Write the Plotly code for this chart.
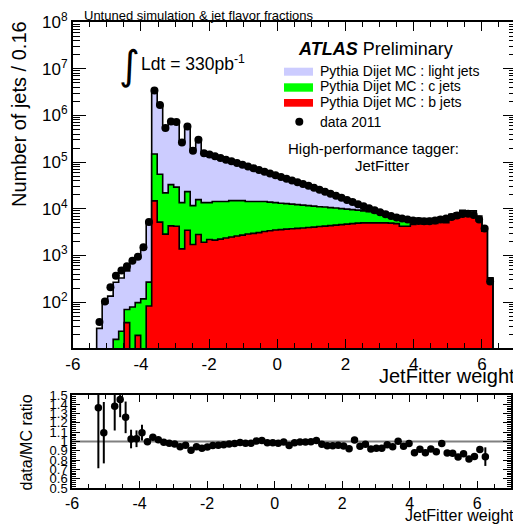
import numpy as np
import plotly.graph_objects as go

# the page body has an 8px margin, so the figure is drawn 8px in from the window corner
PAGE_OFFSET = 8
W, H = 521 - PAGE_OFFSET, 527 - PAGE_OFFSET

# ---------------- data ----------------
bin_low_edge = -5.30
bin_width = 0.1614

data_2011 = [
    37.6, 104, 210, 368, 479, 592, 769, 938, 1507, 5250,
    3.40e6, 1.68e6, 5.35e5, 7.41e5, 7.19e5, 2.63e5, 5.79e5, 1.75e5, 3.02e5, 1.55e5, 1.46e5,
    1.34e5, 1.23e5, 1.13e5, 1.04e5, 9.52e4, 8.75e4, 8.01e4, 7.38e4, 6.75e4, 6.21e4,
    5.71e4, 5.22e4, 4.81e4, 4.40e4, 4.05e4, 3.72e4, 3.42e4, 3.12e4, 2.82e4, 2.56e4,
    2.32e4, 2.10e4, 1.90e4, 1.72e4, 1.55e4, 1.40e4, 1.26e4, 1.14e4, 1.03e4, 9290,
    8410, 7670, 7050, 6550, 6180, 5880, 5650, 5490, 5410, 5430,
    5600, 5880, 6180, 6650, 7160, 7710, 7890, 7330, 5880, 3780, 278,
]

mc_b_jets = [
    0, 0, 0, 0, 0, 36.5, 0, 19.5, 0, 83,
    14800, 5200, 2870, 4310, 4230, 1390, 3470, 1720, 2810, 1930, 2200,
    2140, 2250, 2370, 2490, 2610, 2740, 2880, 2980, 3100, 3260,
    3390, 3510, 3590, 3670, 3740, 3810, 3890, 3970, 4060, 4170,
    4270, 4370, 4480, 4590, 4710, 4830, 4950, 5000, 5000, 5000,
    5000, 5000, 4950, 4830, 4230, 4230, 4620, 4990, 4730, 4940,
    4870, 5280, 5050, 6070, 6560, 7410, 7260, 7220, 5600, 3300, 320,
]

mc_c_jets = [
    0, 0, 0, 16, 24, 33.5, 79, 78.5, 118, 187,
    134200, 49900, 19030, 28590, 24870, 12210, 19830, 9980, 12890, 11670, 11400,
    12160, 12050, 11930, 12510, 12390, 12260, 11420, 11320, 11200, 11040,
    10510, 10090, 9610, 9230, 8860, 8490, 8110, 7730, 7340, 6930,
    6630, 6230, 5920, 5510, 5150, 4790, 4430, 4020, 3710, 3380,
    3050, 2710, 1950, 1670, 1470, 1370, 350, 375, 355, 370,
    365, 395, 380, 455, 490, 555, 545, 540, 420, 250, 8,
]

mc_light_jets = [
    27.6, 95, 135, 251, 306, 400, 670, 813, 1258, 4990,
    3101000, 1595000, 518100, 723100, 709900, 265400, 580700, 181300, 304300, 153400, 141400,
    125700, 113700, 102700, 92000, 82400, 73400, 67400, 61000, 52900, 47200,
    44000, 39300, 35800, 31300, 29700, 25400, 22400, 19700, 16900, 14200,
    13000, 11400, 9500, 7800, 6440, 5580, 3020, 2980, 1890, 1720,
    1030, 570, 400, 440, 470, 600, 810, 875, 825, 860,
    855, 925, 880, 1065, 1150, 1295, 1275, 1270, 980, 580, 4,
]

ratio_err = [
    0.65, 0.33, 0.0, 0.26, 0.19, 0.17, 0.10, 0.09, 0.085, 0.02,
    0.01, 0.01, 0.01, 0.01, 0.01, 0.01, 0.01, 0.01, 0.01, 0.01, 0.01,
    0.01, 0.01, 0.01, 0.01, 0.01, 0.01, 0.01, 0.01, 0.01, 0.01,
    0.01, 0.01, 0.01, 0.01, 0.01, 0.01, 0.01, 0.01, 0.01, 0.01,
    0.015, 0.015, 0.015, 0.015, 0.015, 0.015, 0.015, 0.015, 0.015, 0.015,
    0.02, 0.02, 0.02, 0.02, 0.02, 0.02, 0.02, 0.02, 0.02, 0.025,
    0.025, 0.025, 0.025, 0.025, 0.025, 0.025, 0.025, 0.025, 0.03, 0.035, 0.10,
]

x_major_ticks = [-6, -4, -2, 0, 2, 4, 6]
x_major_labels = ["-6", "-4", "-2", "0", "2", "4", "6"]
y_decades = [2, 3, 4, 5, 6, 7, 8]
ratio_ticks = [0.5, 0.6, 0.7, 0.8, 0.9, 1.0, 1.1, 1.2, 1.3, 1.4, 1.5]
ratio_labels = ["0.5", "0.6", "0.7", "0.8", "0.9", "1", "1.1", "1.2", "1.3", "1.4", "1.5"]

# ---------------- derived ----------------
n = len(data_2011)
edges = bin_low_edge + bin_width * np.arange(n + 1)
centers = 0.5 * (edges[:-1] + edges[1:])
b = np.array(mc_b_jets, float)
c = np.array(mc_c_jets, float)
l = np.array(mc_light_jets, float)
d = np.array(data_2011, float)
stack_b = b
stack_bc = b + c
stack_all = b + c + l
ratio = d / stack_all

FLOOR = 1e-3


def step_xy(vals):
    v = np.where(vals > 0, vals, FLOOR)
    x = np.concatenate([[edges[0]], edges[:-1], [edges[-1], edges[-1]]])
    y = np.concatenate([[FLOOR], v, [v[-1], FLOOR]])
    return x, y


FONT = "Liberation Sans, Arial, Helvetica, sans-serif"


def px(xp):
    return (xp - PAGE_OFFSET) / W


def py(yp):
    return 1 - (yp - PAGE_OFFSET) / H


fig = go.Figure()

for vals, col in [(stack_all, "#ccccff"), (stack_bc, "#00ff00"), (stack_b, "#ff0000")]:
    xs, ys = step_xy(vals)
    fig.add_trace(go.Scatter(
        x=xs, y=ys, mode="lines", line=dict(color="black", width=1.6, shape="hv"),
        fill="toself", fillcolor=col, hoverinfo="skip", showlegend=False,
        xaxis="x", yaxis="y"))

fig.add_trace(go.Scatter(
    x=centers, y=d, mode="markers", marker=dict(color="black", size=8),
    showlegend=False, xaxis="x", yaxis="y"))

fig.add_trace(go.Scatter(
    x=centers, y=ratio, mode="markers", marker=dict(color="black", size=7.5),
    error_y=dict(type="data", array=ratio_err, thickness=2, width=0, color="black"),
    showlegend=False, xaxis="x2", yaxis="y2"))

axis_common = dict(showline=True, linecolor="black", linewidth=1.5, mirror="ticks",
                   showgrid=False, zeroline=False, ticks="inside", tickcolor="black",
                   automargin=False,
                   tickfont=dict(family=FONT, size=17, color="black"))

fig.update_layout(
    width=W, height=H,
    margin=dict(l=0, r=0, t=0, b=0, autoexpand=False),
    paper_bgcolor="white", plot_bgcolor="white",
    showlegend=False,
    font=dict(family=FONT, color="black"),
    xaxis=dict(domain=[px(72.8), px(516)], range=[-6, 7], anchor="y",
               tickvals=x_major_ticks, ticktext=x_major_labels, ticklen=9, tickwidth=1,
               minor=dict(ticks="inside", dtick=0.5, tick0=-6, ticklen=5, tickcolor="black", showgrid=False),
               **axis_common),
    yaxis=dict(domain=[py(348), py(22)], type="log", range=[1.02, 8], anchor="x",
               tickvals=[10 ** k for k in y_decades],
               ticktext=["10<sup>%d</sup>" % k for k in y_decades],
               ticklen=13, tickwidth=1,
               minor=dict(ticks="inside", dtick="D1", ticklen=7, tickcolor="black", showgrid=False),
               **axis_common),
    xaxis2=dict(domain=[px(72), px(511)], range=[-6, 7], anchor="y2",
                tickvals=x_major_ticks, ticktext=x_major_labels, ticklen=7, tickwidth=1,
                minor=dict(ticks="inside", dtick=0.5, tick0=-6, ticklen=4, tickcolor="black", showgrid=False),
                **{**axis_common, "tickfont": dict(family=FONT, size=16, color="black")}),
    yaxis2=dict(domain=[py(488), py(395)], range=[0.5, 1.5], anchor="x2",
                tickvals=ratio_ticks, ticktext=ratio_labels, ticklen=8, tickwidth=1,
                minor=dict(ticks="inside", dtick=0.02, tick0=0.5, ticklen=4, tickcolor="black", showgrid=False),
                **{**axis_common, "tickfont": dict(family=FONT, size=13, color="black")}),
)

fig.add_shape(type="line", xref="x2", yref="y2", x0=-6, x1=7, y0=1, y1=1,
              line=dict(color="#808080", width=2), layer="below")

# legend swatches
for (y0, y1), col in [((67.7, 75.7), "#ccccff"), ((83.3, 91.7), "#00ff00"), ((99, 106.7), "#ff0000")]:
    fig.add_shape(type="rect", xref="paper", yref="paper", x0=px(284), x1=px(313),
                  y0=py(y1), y1=py(y0), fillcolor=col, line=dict(width=0))
fig.add_shape(type="circle", xref="paper", yref="paper", x0=px(295.3), x1=px(303.3),
              y0=py(125.7), y1=py(117.7), fillcolor="black", line=dict(width=0))


def ann(text, x, y, size, xanchor="left", yanchor="middle", angle=0, family=FONT):
    fig.add_annotation(text=text, x=px(x), y=py(y), xref="paper", yref="paper",
                       xanchor=xanchor, yanchor=yanchor, textangle=angle, showarrow=False,
                       font=dict(family=family, size=size, color="black"), borderpad=0)


ann("Untuned simulation &amp; jet flavor fractions", 83, 15.5, 13)
ann("Number of jets / 0.16", 19, 20, 20, xanchor="center", yanchor="top", angle=-90)
ann("JetFitter weight", 516, 376, 20, xanchor="right")
ann("data/MC ratio", 25.5, 443, 16, xanchor="center", angle=-90)
ann("JetFitter weight", 515, 515, 16, xanchor="right")
ann("∫", 129, 65, 40, xanchor="center", family="DejaVu Sans")
ann("Ldt = 330pb<sup>-1</sup>", 140, 63, 17.5)
ann("<b><i>ATLAS</i></b> Preliminary", 296.7, 49, 18)
ann("Pythia Dijet MC : light jets", 319, 70.7, 14)
ann("Pythia Dijet MC : c jets", 319, 86.5, 14)
ann("Pythia Dijet MC : b jets", 319, 102.3, 14)
ann("data 2011", 319, 121.7, 14)
ann("High-performance tagger:", 373.3, 148.3, 15, xanchor="center")
ann("JetFitter", 381.7, 165, 15, xanchor="center")

fig.write_html("out.html")
